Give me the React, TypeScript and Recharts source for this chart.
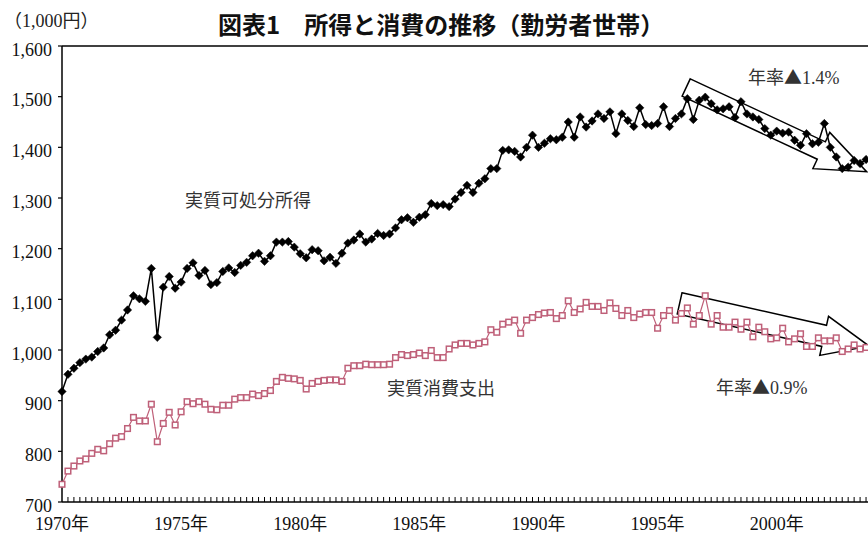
import React from "react";
import { LineChart, Line, XAxis, YAxis, ReferenceLine } from "recharts";

// ---- categories (quarters, 1970Q1 ...) ----
const START_YEAR = 1970;
const N_QUARTERS = 136;
const quarterLabels: string[] = [];
for (let i = 0; i < N_QUARTERS; i++) {
  quarterLabels.push(`${START_YEAR + Math.floor(i / 4)}Q${(i % 4) + 1}`);
}

// ---- tick labels ----
const yearTickLabels = ["1970年", "1975年", "1980年", "1985年", "1990年", "1995年", "2000年"];
const yTicks = [700, 800, 900, 1000, 1100, 1200, 1300, 1400, 1500, 1600];

// ---- series (1,000円) ----
const disposableIncome = [
  918, 952, 964, 975, 982, 986, 997, 1004, 1030, 1039,
  1059, 1079, 1107, 1101, 1096, 1161, 1025, 1124, 1145, 1122,
  1134, 1161, 1172, 1147, 1157, 1129, 1133, 1155, 1162, 1153,
  1167, 1173, 1186, 1191, 1175, 1186, 1213, 1213, 1214, 1203,
  1190, 1182, 1198, 1196, 1176, 1183, 1171, 1191, 1211, 1217,
  1229, 1213, 1219, 1230, 1226, 1229, 1241, 1257, 1261, 1252,
  1262, 1267, 1289, 1285, 1287, 1283, 1298, 1311, 1325, 1311,
  1329, 1338, 1358, 1358, 1394, 1395, 1392, 1381, 1400, 1424,
  1400, 1408, 1417, 1415, 1420, 1450, 1420, 1460, 1440, 1452,
  1466, 1457, 1470, 1427, 1466, 1453, 1441, 1478, 1445, 1443,
  1447, 1480, 1441, 1457, 1466, 1496, 1455, 1493, 1499, 1486,
  1474, 1476, 1480, 1459, 1490, 1466, 1460, 1455, 1437, 1424,
  1432, 1428, 1430, 1414, 1404, 1427, 1407, 1410, 1447, 1400,
  1381, 1358, 1361, 1374, 1368, 1376,
];

const consumption = [
  735, 761, 771, 781, 785, 796, 804, 801, 815, 826,
  829, 845, 867, 860, 860, 893, 819, 855, 877, 852,
  878, 898, 894, 898, 893, 883, 882, 891, 891, 903,
  906, 906, 913, 910, 914, 920, 938, 946, 944, 943,
  940, 923, 934, 938, 940, 941, 941, 938, 964, 969,
  969, 972, 971, 971, 971, 972, 985, 991, 989, 991,
  994, 989, 999, 985, 985, 1002, 1010, 1013, 1013, 1010,
  1013, 1016, 1040, 1035, 1051, 1055, 1059, 1033, 1059, 1064,
  1070, 1073, 1074, 1062, 1068, 1097, 1074, 1081, 1094, 1086,
  1086, 1078, 1093, 1082, 1068, 1078, 1064, 1071, 1074, 1074,
  1043, 1068, 1078, 1059, 1072, 1083, 1051, 1068, 1107, 1051,
  1068, 1045, 1045, 1055, 1041, 1055, 1026, 1045, 1036, 1022,
  1024, 1043, 1016, 1022, 1032, 1007, 1007, 1024, 1018, 1018,
  1024, 997, 1002, 1010, 1002, 1005,
];

// trend arrows (data coordinates: quarter index, value)
const incomeTrend = { from: { x: 104.8, y: 1518 }, to: { x: 135.1, y: 1352 } };
const consumptionTrend = { from: { x: 103.7, y: 1092 }, to: { x: 135.5, y: 1008 } };

const data = quarterLabels.map((q, i) => ({
  i,
  q,
  income: disposableIncome[i],
  consumption: consumption[i],
}));

const xTicks: number[] = [];
for (let i = 0; i <= N_QUARTERS; i++) xTicks.push(i);

const SERIF = "'Liberation Serif', 'Noto Sans CJK JP', serif";
const CJK = "'Noto Sans CJK JP', sans-serif";
const PINK = "#BF6079";

const XTick = (props: any) => {
  const { x, y, payload } = props;
  const v = payload.value as number;
  const label = v % 20 === 0 ? yearTickLabels[v / 20] : null;
  return (
    <g>
      {v > 0 && <line x1={x} x2={x} y1={y} y2={y - 5} stroke="#000" strokeWidth={1} />}
      {label && (
        <text x={x} y={y + 28} textAnchor="middle" fontSize={18} fontFamily={SERIF} fill="#111">
          {label}
        </text>
      )}
    </g>
  );
};

const YTick = (props: any) => {
  const { x, y, payload } = props;
  return (
    <text x={x} y={y + 9.5} textAnchor="end" fontSize={18} fontFamily={SERIF} fill="#111">
      {Number(payload.value).toLocaleString("en-US")}
    </text>
  );
};

const DiamondDot = (props: any) => {
  const { cx, cy, index } = props;
  if (cx == null || cy == null) return <g key={`d${index}`} />;
  const r = 4.2;
  return (
    <path
      key={`d${index}`}
      d={`M${cx},${cy - r}L${cx + r},${cy}L${cx},${cy + r}L${cx - r},${cy}Z`}
      fill="#000"
      stroke="#000"
      strokeWidth={0.5}
    />
  );
};

const SquareDot = (props: any) => {
  const { cx, cy, index } = props;
  if (cx == null || cy == null) return <g key={`s${index}`} />;
  const s = 2.8;
  return (
    <rect
      key={`s${index}`}
      x={cx - s}
      y={cy - s}
      width={2 * s}
      height={2 * s}
      fill="#fff"
      stroke={PINK}
      strokeWidth={1.5}
    />
  );
};

const makeArrow = (bodyHalf: number, headLen: number, headHalf: number) => (p: any) => {
  const { x1, y1, x2, y2 } = p;
  const dx = x2 - x1;
  const dy = y2 - y1;
  const len = Math.sqrt(dx * dx + dy * dy) || 1;
  const ux = dx / len;
  const uy = dy / len;
  const nx = -uy;
  const ny = ux;
  const bx = x2 - headLen * ux;
  const by = y2 - headLen * uy;
  const pts = [
    [x1 - bodyHalf * nx, y1 - bodyHalf * ny],
    [bx - bodyHalf * nx, by - bodyHalf * ny],
    [bx - headHalf * nx, by - headHalf * ny],
    [x2, y2],
    [bx + headHalf * nx, by + headHalf * ny],
    [bx + bodyHalf * nx, by + bodyHalf * ny],
    [x1 + bodyHalf * nx, y1 + bodyHalf * ny],
  ];
  return (
    <polygon
      points={pts.map((q) => `${q[0]},${q[1]}`).join(" ")}
      fill="none"
      stroke="#000"
      strokeWidth={1.5}
      strokeLinejoin="miter"
    />
  );
};

const RateLabel = ({ x, y, rate }: { x: number; y: number; rate: string }) => (
  <text x={x} y={y} fontSize={18} fontFamily={SERIF} fill="#333">
    年率<tspan fontFamily={CJK}>▲</tspan>
    {rate}
  </text>
);

export default function App() {
  return (
    <div
      style={{
        position: "absolute",
        left: 0,
        top: 0,
        width: 868,
        height: 535,
        overflow: "hidden",
        background: "#fff",
      }}
    >
      <LineChart
        width={872}
        height={535}
        data={data}
        margin={{ top: 46, right: 0, bottom: 0, left: 0 }}
      >
        <XAxis
          dataKey="i"
          type="number"
          domain={[0, N_QUARTERS]}
          ticks={xTicks}
          interval={0}
          height={33}
          tickSize={0}
          tickMargin={0}
          tickLine={false}
          tick={<XTick />}
          axisLine={{ stroke: "#000", strokeWidth: 1.5 }}
        />
        <YAxis
          type="number"
          domain={[700, 1600]}
          ticks={yTicks}
          interval={0}
          width={62}
          tickSize={4}
          tickMargin={6}
          tickLine={{ stroke: "#000", strokeWidth: 1.2 }}
          tick={<YTick />}
          axisLine={{ stroke: "#000", strokeWidth: 1.5 }}
        />
        <ReferenceLine y={1600} stroke="#000" strokeWidth={1.5} />
        <ReferenceLine
          segment={[incomeTrend.from, incomeTrend.to]}
          ifOverflow="visible"
          shape={makeArrow(9.6, 50, 20)}
        />
        <ReferenceLine
          segment={[consumptionTrend.from, consumptionTrend.to]}
          ifOverflow="visible"
          shape={makeArrow(10.8, 46, 20)}
        />
        <Line
          dataKey="consumption"
          stroke={PINK}
          strokeWidth={1.2}
          dot={SquareDot}
          activeDot={false}
          isAnimationActive={false}
        />
        <Line
          dataKey="income"
          stroke="#000"
          strokeWidth={1.5}
          dot={DiamondDot}
          activeDot={false}
          isAnimationActive={false}
        />
      </LineChart>
      <svg
        width={868}
        height={535}
        style={{ position: "absolute", left: 0, top: 0, pointerEvents: "none" }}
      >
        <text x={4} y={27} fontSize={18} fontFamily={SERIF} fill="#222">
          （1,000円）
        </text>
        <text x={218} y={34} fontSize={24} fontWeight="bold" fontFamily={CJK} fill="#111">
          図表1　所得と消費の推移（勤労者世帯）
        </text>
        <text x={185} y={207} fontSize={18} fontFamily={SERIF} fill="#333">
          実質可処分所得
        </text>
        <text x={387} y={395} fontSize={18} fontFamily={SERIF} fill="#333">
          実質消費支出
        </text>
        <RateLabel x={748} y={84} rate="1.4%" />
        <RateLabel x={716} y={394} rate="0.9%" />
      </svg>
    </div>
  );
}
